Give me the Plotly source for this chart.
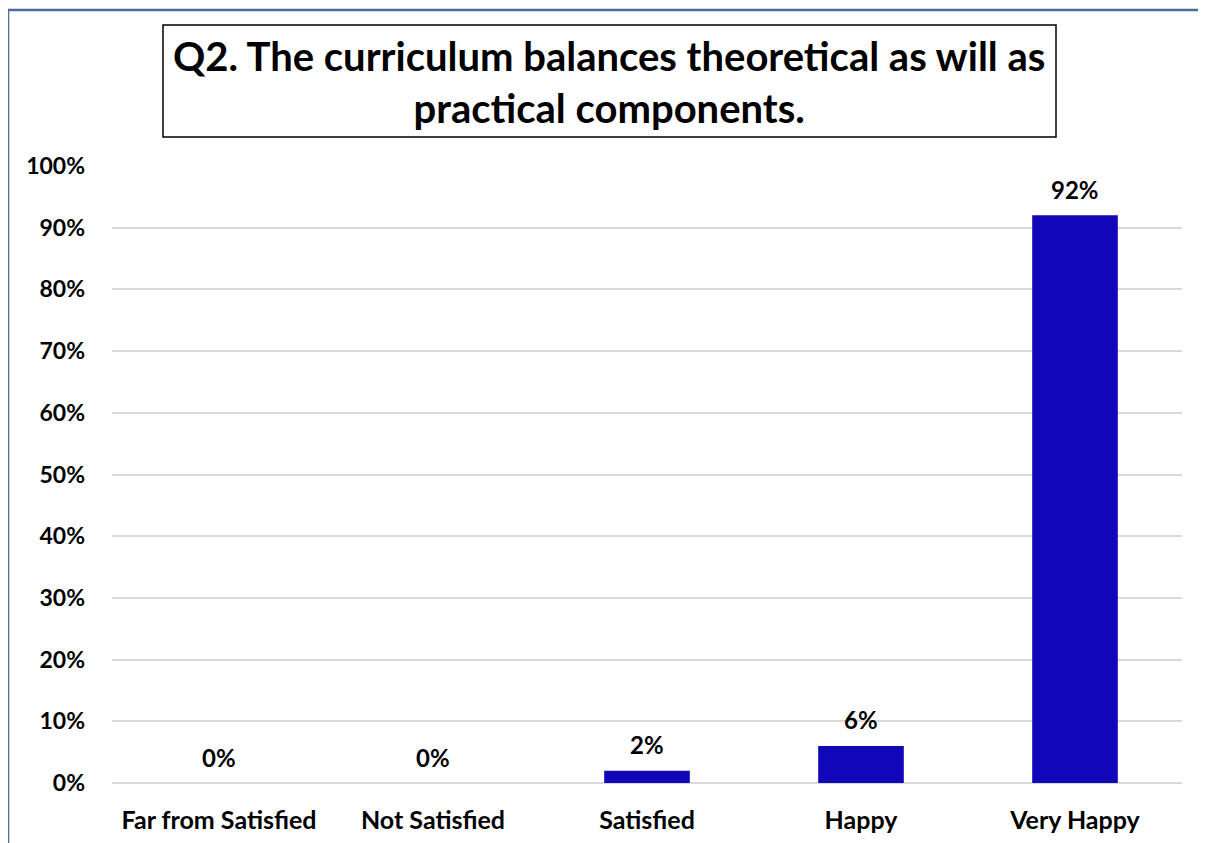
import plotly.graph_objects as go

categories = ["Far from Satisfied", "Not Satisfied", "Satisfied", "Happy", "Very Happy"]
values = [0, 0, 2, 6, 92]
tick_vals = [0, 10, 20, 30, 40, 50, 60, 70, 80, 90, 100]
tick_text = [f"{v}%" for v in tick_vals]
title_text = "Q2. The curriculum balances theoretical as will as<br>practical components."

FONT = "Lato"
BAR_COLOR = "#1106B8"

fig = go.Figure()
fig.add_trace(go.Bar(
    x=categories, y=values, marker=dict(color=BAR_COLOR, line=dict(width=0)),
    width=0.4, hoverinfo="skip",
))

for c, v in zip(categories, values):
    fig.add_annotation(x=c, y=v, text=f"<b>{v}%</b>", showarrow=False,
                       yshift=26, font=dict(family=FONT, size=24, color="black"))

# page offset (body margin) compensation
OFF = 8
W, H = 1206, 843
L, R, T, B = 112 - OFF, W - (1182 - OFF), 166 - OFF, H - (783 - OFF)
pw, ph = W - L - R, H - T - B

def px(x):
    return (x - OFF - L) / pw

def py(y):
    return (H - B - (y - OFF)) / ph

# title box
fig.add_shape(type="rect", xref="paper", yref="paper",
              x0=px(163), x1=px(1056), y0=py(137), y1=py(25),
              line=dict(color="black", width=1.5), fillcolor="white", layer="above")
fig.add_annotation(xref="paper", yref="paper", x=px(609), y=py(82),
                   text="<b>" + title_text + "</b>", showarrow=False,
                   font=dict(family=FONT, size=40, color="black"), align="center",
                   xanchor="center", yanchor="middle")
# outer frame lines
fig.add_shape(type="line", xref="paper", yref="paper", x0=px(8), x1=px(8), y0=py(10), y1=py(860),
              line=dict(color="#4A6E98", width=2.5))
fig.add_shape(type="line", xref="paper", yref="paper", x0=px(8), x1=px(1220), y0=py(10), y1=py(10),
              line=dict(color="#4A6E98", width=2.5))

fig.update_layout(
    width=W, height=H,
    margin=dict(l=L, r=R, t=T, b=B),
    paper_bgcolor="white", plot_bgcolor="white",
    showlegend=False,
    font=dict(family=FONT, color="black"),
    bargap=0.6,
)
fig.update_xaxes(
    tickfont=dict(family=FONT, size=25, color="black"),
    ticklabelstandoff=20, showline=False, showgrid=False,
    tickvals=categories, ticktext=[f"<b>{c}</b>" for c in categories],
)
fig.update_yaxes(
    range=[0, 100], tickvals=tick_vals, ticktext=[f"<b>{t}</b>" for t in tick_text],
    tickfont=dict(family=FONT, size=23, color="black"),
    showgrid=True, gridcolor="#D9D9D9", gridwidth=1.5,
    zeroline=True, zerolinecolor="#D9D9D9", zerolinewidth=1.5,
    ticklabelstandoff=26, showline=False,
)

fig.write_html("out.html")
